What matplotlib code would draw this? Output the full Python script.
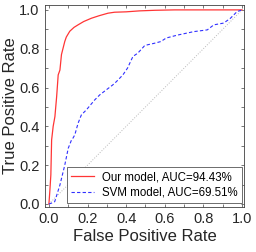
import matplotlib
matplotlib.use("Agg")
import matplotlib.pyplot as plt
from matplotlib.ticker import MultipleLocator

plt.rcParams['font.family'] = ['Liberation Sans', 'DejaVu Sans']

# ROC curve of our model
our_fpr = [0.0, 0.005, 0.01, 0.014, 0.017, 0.022, 0.031, 0.04, 0.048, 0.057, 0.065,
           0.082, 0.09, 0.108, 0.13, 0.151, 0.18, 0.22, 0.26, 0.306, 0.34, 0.40,
           0.47, 0.55, 0.65, 0.8, 1.0]
our_tpr = [0.0, 0.07, 0.15, 0.33, 0.356, 0.40, 0.45, 0.553, 0.665, 0.69, 0.77,
           0.837, 0.86, 0.89, 0.91, 0.923, 0.94, 0.957, 0.97, 0.983, 0.988, 0.99,
           0.995, 0.998, 1.0, 1.0, 1.0]

# ROC curve of the SVM model
svm_fpr = [0.0, 0.015, 0.03, 0.057, 0.082, 0.1, 0.117, 0.125, 0.134, 0.151, 0.168,
           0.194, 0.237, 0.263, 0.297, 0.33, 0.349, 0.383, 0.407, 0.435, 0.46,
           0.495, 0.51, 0.546, 0.58, 0.607, 0.665, 0.75, 0.82, 0.854, 0.905, 0.94,
           0.974, 1.0]
svm_tpr = [0.0, 0.005, 0.012, 0.098, 0.2, 0.287, 0.33, 0.34, 0.356, 0.416, 0.459,
           0.485, 0.536, 0.562, 0.588, 0.613, 0.63, 0.665, 0.70, 0.76, 0.777,
           0.815, 0.82, 0.828, 0.837, 0.855, 0.87, 0.888, 0.897, 0.923, 0.932, 0.957,
           0.991, 1.0]

our_label = 'Our model, AUC=94.43%'
svm_label = 'SVM model, AUC=69.51%'

fig = plt.figure(figsize=(2.56, 2.52), dpi=100)
ax = fig.add_axes([0.176, 0.179, 0.777, 0.801])

ax.plot([0, 1], [0, 1], color='#b8b8b8', linestyle=':', linewidth=0.7)
ax.plot(our_fpr, our_tpr, color='#ff3535', linewidth=0.9, label=our_label)
ax.plot(svm_fpr, svm_tpr, color='#3030ff', linestyle='--', linewidth=0.8,
        dashes=(3, 2), label=svm_label)

ax.set_xlim(-0.02, 1.01)
ax.set_ylim(-0.015, 1.025)
ax.xaxis.set_major_locator(MultipleLocator(0.2))
ax.yaxis.set_major_locator(MultipleLocator(0.2))
ax.xaxis.set_minor_locator(MultipleLocator(0.1))
ax.yaxis.set_minor_locator(MultipleLocator(0.1))
ax.tick_params(which='both', direction='in', top=True, right=True,
               color='#404040', width=0.5)
ax.tick_params(which='major', length=2.5, labelsize=10.5, pad=4,
               labelcolor='#262626')
ax.tick_params(which='minor', length=2.5)
for s in ax.spines.values():
    s.set_linewidth(0.6)
    s.set_color('#404040')

ax.set_xlabel('False Positive Rate', fontsize=12, labelpad=2, color='#262626')
ax.set_ylabel('True Positive Rate', fontsize=12, labelpad=1, color='#262626')

leg = ax.legend(loc='lower right', bbox_to_anchor=(0.99, 0.02), borderaxespad=0,
                fontsize=8.3, fancybox=False, framealpha=1, edgecolor='#555555',
                handlelength=2.0, handletextpad=0.7, borderpad=0.35,
                labelspacing=0.3)
leg.get_frame().set_linewidth(0.6)

plt.savefig('out.png', dpi=100)
